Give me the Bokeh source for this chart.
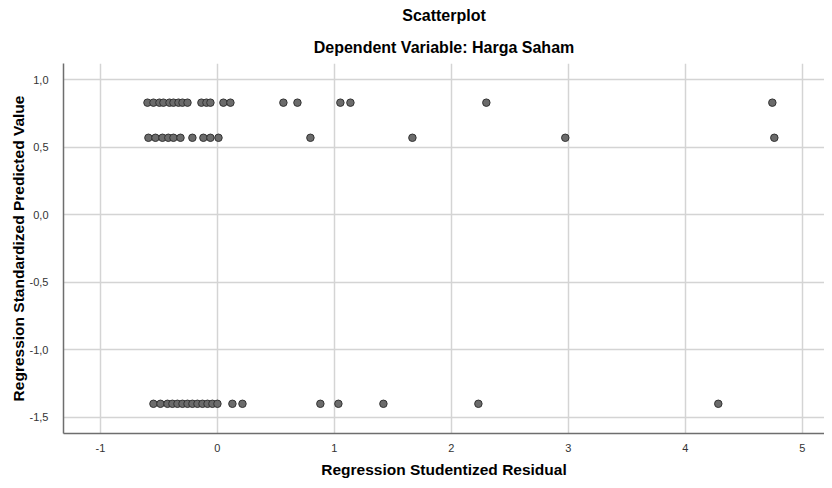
from bokeh.plotting import figure
from bokeh.models import Range1d, FixedTicker, Title, Spacer
from bokeh.layouts import row
from bokeh.embed import file_html
from bokeh.resources import INLINE

# Data
top_x = [-0.598, -0.547, -0.496, -0.462, -0.41, -0.376, -0.333, -0.299, -0.256,
         -0.137, -0.094, -0.06, 0.051, 0.111, 0.564, 0.684, 1.051, 1.137, 2.299, 4.744]
top_y = [0.83] * len(top_x)
mid_x = [-0.59, -0.53, -0.47, -0.42, -0.376, -0.316, -0.214, -0.12, -0.06, 0.009,
         0.795, 1.667, 2.974, 4.761]
mid_y = [0.57] * len(mid_x)
bot_x = [-0.547, -0.487, -0.427, -0.385, -0.342, -0.299, -0.256, -0.214, -0.171,
         -0.128, -0.085, -0.043, 0.0, 0.128, 0.214, 0.88, 1.034, 1.419, 2.231, 4.282]
bot_y = [-1.40] * len(bot_x)

xs = top_x + mid_x + bot_x
ys = top_y + mid_y + bot_y

x_ticks = [-1, 0, 1, 2, 3, 4, 5]
x_labels = ["-1", "0", "1", "2", "3", "4", "5"]
y_ticks = [1.0, 0.5, 0.0, -0.5, -1.0, -1.5]
y_labels = ["1,0", "0,5", "0,0", "-0,5", "-1,0", "-1,5"]

FONT = "Liberation Sans"

p = figure(frame_width=761, frame_height=370, output_backend="svg", toolbar_location=None,
           x_range=Range1d(-1.316, 5.19), y_range=Range1d(-1.62, 1.12),
           min_border_left=0, min_border_right=0, min_border_top=0, min_border_bottom=0)

p.title.text = "Scatterplot"
p.title.align = "center"
p.title.text_font = FONT
p.title.text_font_size = "16px"
p.title.text_font_style = "bold"
p.title.text_color = "#000000"
p.title.standoff = 9
p.add_layout(Title(text="Dependent Variable: Harga Saham", align="center", text_font=FONT,
                   text_font_size="16px", text_font_style="bold",
                   text_color="#000000", standoff=16), "above")

p.scatter(xs, ys, size=7.5, fill_color="#6b6b6b", line_color="#333333", line_width=1)

p.outline_line_color = None
p.background_fill_color = "white"
p.border_fill_color = "white"

for ax in (p.xaxis, p.yaxis):
    ax.major_tick_line_color = None
    ax.minor_tick_line_color = None
    ax.axis_line_color = "#6e6e6e"
    ax.axis_line_width = 1.5
    ax.major_label_text_font = FONT
    ax.major_label_text_font_size = "11px"
    ax.major_label_text_color = "#333333"
    ax.axis_label_text_font = FONT
    ax.axis_label_text_font_size = "15.5px"
    ax.axis_label_text_font_style = "bold"
    ax.axis_label_text_color = "#000000"

p.xaxis.ticker = FixedTicker(ticks=x_ticks)
p.xaxis.major_label_overrides = {t: l for t, l in zip(x_ticks, x_labels)}
p.yaxis.ticker = FixedTicker(ticks=y_ticks)
p.yaxis.major_label_overrides = {t: l for t, l in zip(y_ticks, y_labels)}
p.xaxis.axis_label = "Regression Studentized Residual"
p.yaxis.axis_label = "Regression Standardized Predicted Value"
p.xaxis.major_label_standoff = 4
p.yaxis.major_label_standoff = 9
p.xaxis.axis_label_standoff = 6
p.yaxis.axis_label_standoff = 0

p.xgrid.grid_line_color = "#d4d4d4"
p.ygrid.grid_line_color = "#d4d4d4"
p.xgrid.grid_line_width = 1.5
p.ygrid.grid_line_width = 1.5

layout = row(Spacer(width=6), p)
open("out.html", "w").write(file_html(layout, INLINE))
